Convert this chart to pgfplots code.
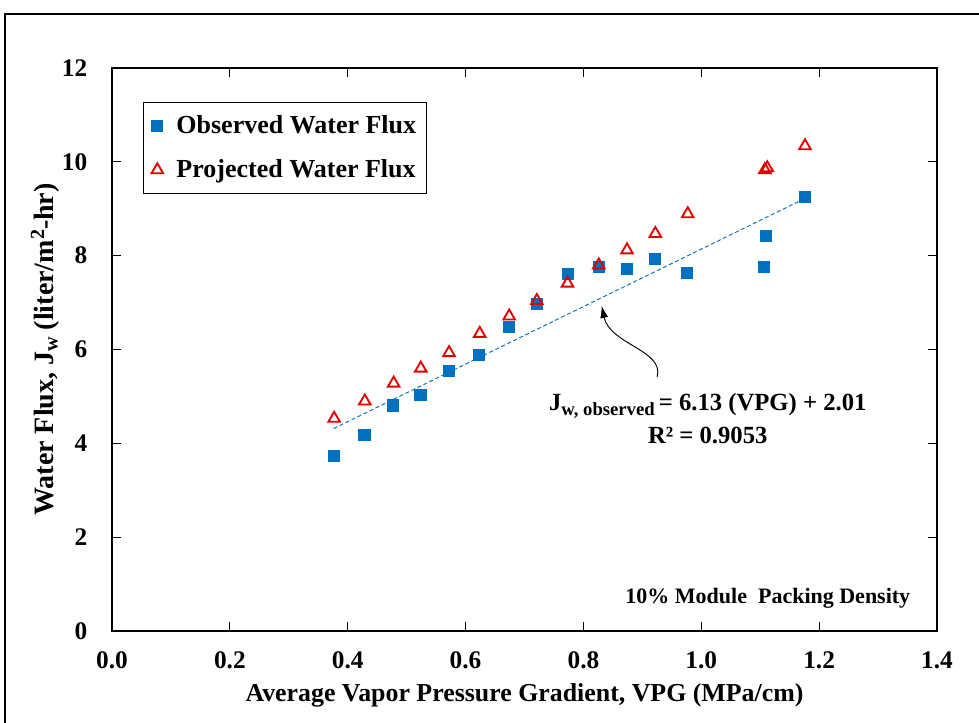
\documentclass[border=0pt]{standalone}
\usepackage{fontspec}
\setmainfont{Liberation Serif}
\usepackage{pgfplots}
\pgfplotsset{compat=1.18}
\usetikzlibrary{arrows.meta}
\definecolor{obsblue}{HTML}{0070C0}
\definecolor{projred}{HTML}{E00000}
\begin{document}
\begin{tikzpicture}
\useasboundingbox (0pt,0pt) rectangle (734.25pt,541.5pt);
\clip (0pt,0pt) rectangle (734.25pt,541.5pt);
\draw[line width=0.9pt] (3.75pt,-15pt) rectangle (750pt,531pt);
\begin{axis}[
  at={(84pt,68.25pt)}, anchor=south west,
  scale only axis, width=618.75pt, height=422.25pt,
  xmin=0, xmax=1.4, ymin=0, ymax=12,
  xtick={0,0.2,0.4,0.6,0.8,1.0,1.2,1.4},
  ytick={0,2,4,6,8,10,12},
  tick align=inside, major tick length=7pt,
  tick style={black, line width=0.6pt},
  axis line style={black, line width=1pt},
  xticklabel style={/pgf/number format/.cd, fixed, fixed zerofill, precision=1, /tikz/.cd, yshift=-12pt},
  yticklabel style={xshift=-15pt},
  /pgf/number format/assume math mode=true,
  ticklabel style={font=\fontsize{19}{19}\selectfont\bfseries},
  xlabel={Average Vapor Pressure Gradient, VPG (MPa/cm)},
  ylabel={Water Flux, J\raisebox{-0.35ex}{\fontsize{15}{15}\selectfont w} (liter/m\raisebox{0.7ex}{\fontsize{15}{15}\selectfont 2}-hr)},
  xlabel style={font=\fontsize{19.4}{19.4}\selectfont\bfseries, at={(axis description cs:0.5,-0.1136)}, anchor=center},
  ylabel style={font=\fontsize{21}{21}\selectfont\bfseries, at={(axis description cs:-0.0812,0.5)}, anchor=center},
  legend style={at={(axis description cs:0.0376,0.9396)}, anchor=north west,
    draw=black, line width=0.8pt, font=\fontsize{19.5}{19.5}\selectfont\bfseries,
    row sep=14pt, inner xsep=6pt, inner ysep=8pt},
  legend image post style={xshift=5pt},
  legend cell align=left,
  every legend image/.append style={},
  legend style={/tikz/every odd column/.append style={column sep=8pt}},
  clip=false,
]
\addplot[only marks, mark=square*, mark size=4.2pt, color=obsblue] coordinates {
(0.376,3.73) (0.428,4.19) (0.477,4.81) (0.523,5.03) (0.571,5.55) (0.623,5.89)
(0.673,6.48) (0.721,6.98) (0.773,7.62) (0.826,7.77) (0.873,7.72) (0.921,7.94)
(0.976,7.63) (1.106,7.77) (1.110,8.43) (1.176,9.25)};
\addlegendentry{Observed Water Flux}
\addplot[only marks, mark=triangle, mark size=5pt, line width=1.4pt, color=projred] coordinates {
(0.377,4.53) (0.429,4.90) (0.478,5.28) (0.524,5.60) (0.572,5.93) (0.624,6.34)
(0.674,6.71) (0.721,7.04) (0.773,7.41) (0.826,7.80) (0.874,8.12) (0.922,8.47)
(0.977,8.89) (1.108,9.83) (1.112,9.87) (1.176,10.34)};
\addlegendentry{Projected Water Flux}
\addplot[forget plot, obsblue, line width=0.7pt, dash pattern=on 3pt off 2pt] coordinates {(0.376,4.315) (1.176,9.219)};
\draw[line width=0.7pt, -{Latex[length=9pt,width=6pt]}] (axis cs:0.925,5.41) .. controls (axis cs:0.938,5.99) and (axis cs:0.845,6.10) .. (axis cs:0.831,6.93);
\node[font=\fontsize{18.5}{18.5}\selectfont\bfseries] at (axis cs:1.011,4.80) {J\raisebox{-0.4ex}{\fontsize{14}{14}\selectfont w, observed}\,= 6.13 (VPG) + 2.01};
\node[font=\fontsize{18.5}{18.5}\selectfont\bfseries] at (axis cs:1.011,4.16) {R² = 0.9053};
\node[font=\fontsize{16.5}{16.5}\selectfont\bfseries, anchor=east] at (axis cs:1.3626,0.70) {10\% Module\ \ Packing Density};
\end{axis}
\end{tikzpicture}
\end{document}
